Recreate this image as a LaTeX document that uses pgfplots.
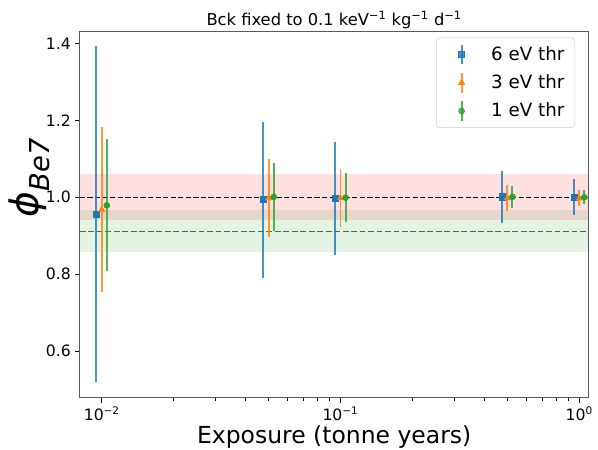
\documentclass[border=0pt]{standalone}
\usepackage{fontspec}
\setmainfont{DejaVu Sans}
\usepackage{pgfplots}
\usepackage{pgfplotstable}
\pgfplotsset{compat=1.18}

\definecolor{tabblue}{HTML}{1F77B4}
\definecolor{taborange}{HTML}{FF7F0E}
\definecolor{tabgreen}{HTML}{2CA02C}

% phi_Be7 fits: exposure, best fit, 1-sigma error
\pgfplotstableread{
x       y      e
0.0095  0.956  0.437
0.0475  0.994  0.203
0.095   0.997  0.146
0.475   1.001  0.068
0.95    1.000  0.047
}\thrsix
\pgfplotstableread{
x       y      e
0.010   0.968  0.215
0.050   0.998  0.101
0.100   0.998  0.075
0.500   0.998  0.034
1.000   0.997  0.021
}\thrthree
\pgfplotstableread{
x       y      e
0.0105  0.979  0.172
0.0525  1.001  0.089
0.105   0.999  0.064
0.525   1.001  0.028
1.05    1.000  0.018
}\throne

\pgfplotsset{
  errleg/.style={legend image code/.code={
      \path[draw=none, fill=none] (0pt,0pt) -- (34pt,0pt);
      \draw[solid, line width=1.5pt, draw opacity=0.8] (13.3pt,-7.5pt) -- (13.3pt,7.5pt);
      \draw[mark repeat=1, draw=none] plot coordinates {(13.3pt,0pt)};
  }},
  errbars/.style={error bars/.cd, y dir=both, y explicit, error mark=none,
    error bar style={line width=1.5pt, draw opacity=0.8}},
}

\begin{document}
\begin{tikzpicture}
\begin{axis}[
  scale only axis,
  width=390pt, height=281.3pt,
  xmode=log,
  xmin=0.0081, xmax=1.093,
  ymin=0.478, ymax=1.432,
  axis line style={black!65, line width=0.8pt},
  tick pos=left,
  tick align=outside,
  major tick length=3.5pt,
  minor tick length=2pt,
  every tick/.style={black, line width=0.8pt},
  every minor tick/.style={black, line width=0.6pt},
  xtick={0.01,0.1,1},
  xticklabels={10\textsuperscript{−2},10\textsuperscript{−1},10\textsuperscript{0}},
  ytick={0.6,0.8,1.0,1.2,1.4},
  yticklabel style={/pgf/number format/fixed, /pgf/number format/fixed zerofill,
    /pgf/number format/precision=1, /pgf/number format/assume math mode=true},
  tick label style={font=\fontsize{12}{14}\selectfont},
  title={Bck fixed to 0.1 keV\textsuperscript{−1} kg\textsuperscript{−1} d\textsuperscript{−1}},
  title style={at={(axis description cs:0.5,1)}, anchor=base, yshift=-1.5pt,
    font=\fontsize{12.5}{15}\selectfont},
  xlabel={Exposure (tonne years)},
  xlabel style={at={(axis description cs:0.5,0)}, anchor=center, yshift=-30pt,
    font=\fontsize{18}{21}\selectfont},
  ylabel={\itshape ϕ\raisebox{-0.28em}{\fontsize{21}{25}\selectfont\itshape Be7}},
  ylabel style={at={(axis description cs:0,0.60)}, anchor=center, yshift=39pt,
    font=\fontsize{30}{34}\selectfont},
  legend style={at={(axis description cs:1,1)}, anchor=north east,
    xshift=-10.3pt, yshift=-4.9pt,
    draw=black!20, rounded corners=2.5pt, fill=white, fill opacity=0.8, text opacity=1,
    font=\fontsize{14}{17}\selectfont,
    inner xsep=6pt, inner ysep=4.5pt, row sep=5.2pt},
  legend cell align=left,
]
% reference bands
\addplot[draw=none, fill=red, fill opacity=0.12, forget plot]
  coordinates {(0.0081,0.94) (1.093,0.94) (1.093,1.06) (0.0081,1.06)} -- cycle;
\addplot[draw=none, fill=tabgreen, fill opacity=0.12, forget plot]
  coordinates {(0.0081,0.857) (1.093,0.857) (1.093,0.966) (0.0081,0.966)} -- cycle;
\addplot[black, line width=1.1pt, dash pattern=on 4pt off 1.8pt, forget plot]
  coordinates {(0.0081,1.0) (1.093,1.0)};
\addplot[draw=tabgreen!85!black, line width=1.4pt, dash pattern=on 4.5pt off 2pt, forget plot]
  coordinates {(0.0081,0.911) (1.093,0.911)};

\addplot[only marks, tabblue, mark=square*, mark size=2.4pt, errleg, errbars]
  table[x=x, y=y, y error=e] {\thrsix};
\addlegendentry{6 eV thr}
\addplot[only marks, taborange, mark=triangle*, mark size=2.7pt, errleg, errbars]
  table[x=x, y=y, y error=e] {\thrthree};
\addlegendentry{3 eV thr}
\addplot[only marks, tabgreen, mark=*, mark size=2.3pt, errleg, errbars]
  table[x=x, y=y, y error=e] {\throne};
\addlegendentry{1 eV thr}
\end{axis}
\pgfresetboundingbox
\path[use as bounding box] ([xshift=-61.3pt,yshift=-39.3pt]current axis.south west)
  rectangle ([xshift=7.3pt,yshift=23.9pt]current axis.north east);
\end{tikzpicture}
\end{document}
